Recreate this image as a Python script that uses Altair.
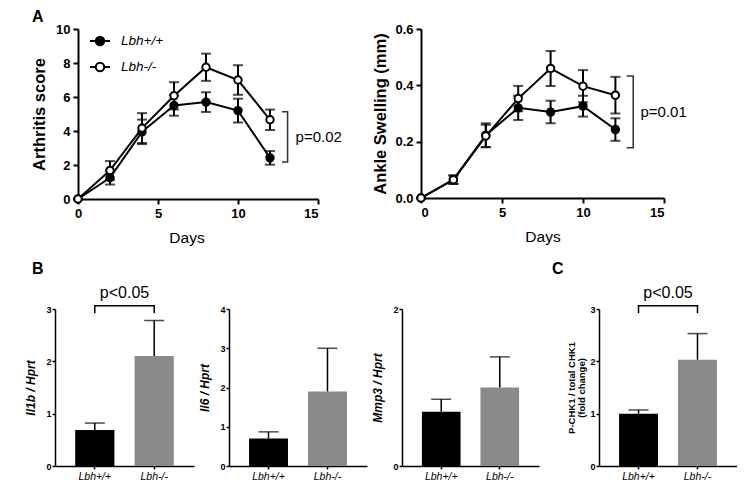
import altair as alt
import pandas as pd

FONT = "Liberation Sans"

# ---------------- data ----------------
groups = ["Lbh+/+", "Lbh-/-"]
days = [0, 2, 4, 6, 8, 10, 12]

arth_wt = [0, 1.25, 3.95, 5.5, 5.7, 5.2, 2.42]
arth_wt_sem = [0, 0.4, 0.72, 0.6, 0.58, 0.7, 0.4]
arth_ko = [0, 1.68, 4.17, 6.07, 7.75, 7.0, 4.66]
arth_ko_sem = [0, 0.55, 0.88, 0.8, 0.8, 0.87, 0.6]

ankle_wt = [0, 0.065, 0.223, 0.32, 0.305, 0.326, 0.243]
ankle_wt_sem = [0, 0.015, 0.042, 0.043, 0.04, 0.037, 0.04]
ankle_ko = [0, 0.065, 0.22, 0.353, 0.46, 0.397, 0.365]
ankle_ko_sem = [0, 0.015, 0.04, 0.045, 0.062, 0.057, 0.065]

il1b = [0.69, 2.10]
il1b_sem = [0.13, 0.68]
il6 = [0.70, 1.90]
il6_sem = [0.17, 1.10]
mmp3 = [0.69, 1.00]
mmp3_sem = [0.16, 0.39]
chk1 = [1.00, 2.03]
chk1_sem = [0.07, 0.50]

# bracket annotations (data units)
arth_bracket = dict(x=13.1, x_in=12.75, top=5.13, bot=2.17, tx=13.6, ty=3.65, label="p=0.02")
ankle_bracket = dict(x=13.1, x_in=12.7, top=0.433, bot=0.178, tx=13.55, ty=0.305, label="p=0.01")
il1b_bracket = dict(top=3.06, low=2.92, ty=3.3, label="p<0.05")
chk1_bracket = dict(top=3.06, low=2.92, ty=3.3, label="p<0.05")

# legend symbol: short line with a circle in the middle
LEG_PATH = ("M-1,0L-0.42,0M0.42,0L1,0"
            "M-0.42,0A0.42,0.42,0,1,1,0.42,0A0.42,0.42,0,1,1,-0.42,0Z")


def letter_title(text, dx, offset):
    return alt.TitleParams(text=text, anchor="start", frame="group", dx=dx,
                           offset=offset, fontSize=16, fontWeight="bold",
                           font=FONT, color="black")


def line_panel(wt, wt_sem, ko, ko_sem, ydom, yvals, yfmt, ytitle, brk,
               w, h, ytitle_pad, lead=0, title=None):
    """lead: extra pixels of plot area to the left of day 0 (axis kept at day 0)."""
    rows = []
    for g, m, s in ((groups[0], wt, wt_sem), (groups[1], ko, ko_sem)):
        for d, mm, ss in zip(days, m, s):
            rows.append(dict(group=g, day=d, mean=mm, lo=mm - ss, hi=mm + ss))
    df = pd.DataFrame(rows)

    px_per_day = w / 15.0
    xdom = [-lead / px_per_day, 15]
    xaxis_kw = dict(values=[0, 5, 10, 15], title="Days", titleFontSize=15.5,
                    titleFontWeight="normal", titlePadding=10,
                    labelFontSize=13, labelFontWeight="bold", labelPadding=3,
                    tickSize=5, tickWidth=2, domainWidth=2)
    if lead:
        xaxis_kw.update(domainDash=[w, 1000], domainDashOffset=w + 1000 - lead)
    xaxis = alt.Axis(**xaxis_kw)
    yaxis = alt.Axis(values=yvals, format=yfmt, title=ytitle, titleFontSize=16.5,
                     titleFontWeight="bold", titlePadding=ytitle_pad,
                     labelFontSize=13, labelFontWeight="bold", labelPadding=3,
                     tickSize=5, tickWidth=2, domainWidth=2, offset=-lead)
    xs = alt.Scale(domain=xdom, nice=False, zero=False)
    ys = alt.Scale(domain=ydom, nice=False)

    def X(f):
        return alt.X(f, type="quantitative", scale=xs, axis=xaxis)

    def Y(f):
        return alt.Y(f, type="quantitative", scale=ys, axis=yaxis)

    base = alt.Chart(df)
    lines = base.mark_line(color="black", strokeWidth=2).encode(
        x=X("day"), y=Y("mean"), detail="group:N")
    err = base.mark_errorbar(ticks=True, size=10, thickness=2, color="black").encode(
        x=X("day"), y=Y("lo"), y2="hi:Q")
    pts = base.mark_point(filled=True, size=55, stroke="black", strokeWidth=2,
                          opacity=1).encode(
        x=X("day"), y=Y("mean"),
        fill=alt.Fill("group:N", scale=alt.Scale(domain=groups, range=["black", "white"]),
                      legend=alt.Legend(title=None, orient="none", legendX=11 + lead,
                                        legendY=1,
                                        symbolType=LEG_PATH, symbolSize=400,
                                        symbolStrokeColor="black", symbolStrokeWidth=2,
                                        labelFont=FONT, labelFontSize=13.5,
                                        labelFontStyle="italic", labelColor="black",
                                        labelOffset=10, rowPadding=6)))

    bdf = pd.DataFrame({
        "bx": [brk["x_in"], brk["x"], brk["x"], brk["x_in"]],
        "by": [brk["top"], brk["top"], brk["bot"], brk["bot"]],
        "o": [0, 1, 2, 3]})
    bracket = alt.Chart(bdf).mark_line(color="#333333", strokeWidth=1.5).encode(
        x=X("bx"), y=Y("by"), order="o:Q")
    tdf = pd.DataFrame({"tx": [brk["tx"]], "ty": [brk["ty"]], "label": [brk["label"]]})
    ptext = alt.Chart(tdf).mark_text(align="left", baseline="middle", fontSize=15,
                                      font=FONT, color="black").encode(
        x=X("tx"), y=Y("ty"), text="label:N")

    props = dict(width=w + lead, height=h)
    if title is not None:
        props["title"] = title
    return alt.layer(lines, err, bracket, ptext, pts).properties(**props)


def bar_panel(vals, sems, ydom, yvals, ytitle, italic, w, h, ytitle_pad,
              brk=None, title=None):
    df = pd.DataFrame({"group": groups, "mean": vals,
                       "hi": [v + s for v, s in zip(vals, sems)]})
    xscale = alt.Scale(domain=groups, paddingInner=0.34, paddingOuter=0.34)
    xaxis = alt.Axis(title=None, labelAngle=0, labelFontStyle="italic",
                     labelFontSize=10.5, labelPadding=2, tickSize=3, tickWidth=1.5,
                     domainWidth=1.5)
    yaxis = alt.Axis(values=yvals, format="d", title=ytitle,
                     titleFontSize=12 if italic else 9.5,
                     titleFontWeight="bold",
                     titleFontStyle="italic" if italic else "normal",
                     titlePadding=ytitle_pad, titleLineHeight=10,
                     labelFontSize=9, labelFontWeight="bold", labelPadding=1,
                     tickSize=3, tickWidth=1.5, domainWidth=1.5)
    ys = alt.Scale(domain=ydom, nice=False)

    def X(f):
        return alt.X(f, type="nominal", sort=groups, scale=xscale, axis=xaxis)

    def Y(f):
        return alt.Y(f, type="quantitative", scale=ys, axis=yaxis)

    base = alt.Chart(df)
    bars = base.mark_bar().encode(
        x=X("group"), y=Y("mean"),
        color=alt.Color("group:N", scale=alt.Scale(domain=groups, range=["black", "#8a8a8a"]),
                        legend=None))
    rule = base.mark_rule(color="black", strokeWidth=1.5).encode(
        x=X("group"), y=Y("mean"), y2="hi:Q")
    cap = base.mark_tick(color="black", thickness=1.5, size=20).encode(
        x=X("group"), y=Y("hi"))
    layers = [bars, rule, cap]
    if brk is not None:
        bdf = pd.DataFrame({"g": [groups[0], groups[0], groups[1], groups[1]],
                            "by": [brk["low"], brk["top"], brk["top"], brk["low"]],
                            "o": [0, 1, 2, 3]})
        layers.append(alt.Chart(bdf).mark_line(color="black", strokeWidth=1.5).encode(
            x=X("g"), y=Y("by"), order="o:Q"))
        tdf = pd.DataFrame({"g": [groups[0]], "ty": [brk["ty"]], "label": [brk["label"]]})
        layers.append(alt.Chart(tdf).mark_text(align="center", baseline="middle",
                                               fontSize=16, font=FONT, color="black",
                                               dx=w * 0.5 / 2.34).encode(
            x=X("g"), y=Y("ty"), text="label:N"))
    props = dict(width=w, height=h)
    if title is not None:
        props["title"] = title
    return alt.layer(*layers).properties(**props)


A1 = line_panel(arth_wt, arth_wt_sem, arth_ko, arth_ko_sem, [0, 10], [0, 2, 4, 6, 8, 10],
                "d", "Arthritis score", arth_bracket, 240, 170, 8, lead=23,
                title=letter_title("A", -23, -1.5))
A2 = line_panel(ankle_wt, ankle_wt_sem, ankle_ko, ankle_ko_sem, [0, 0.6], [0, 0.2, 0.4, 0.6],
                ".1f", "Ankle Swelling (mm)", ankle_bracket, 243, 169, 6)

B1 = bar_panel(il1b, il1b_sem, [0, 3], [0, 1, 2, 3], "Il1b / Hprt", True, 139, 157, 8,
               il1b_bracket, title=letter_title("B", -23, 8.5))
B2 = bar_panel(il6, il6_sem, [0, 4], [0, 1, 2, 3, 4], "Il6 / Hprt", True, 138, 157, 8)
B3 = bar_panel(mmp3, mmp3_sem, [0, 2], [0, 1, 2], "Mmp3 / Hprt", True, 137, 157, 8)
C = bar_panel(chk1, chk1_sem, [0, 3], [0, 1, 2, 3], ["P-CHK1 / total CHK1", "(fold change)"],
              False, 138, 157, 3, chk1_bracket, title=letter_title("C", -47, 8.5))

top = alt.hconcat(A1, A2, spacing=103, bounds="flush")
bottom = alt.hconcat(alt.hconcat(B1, B2, B3, spacing=35, bounds="flush"), C, spacing=13)

chart = alt.vconcat(top, bottom, spacing=14).properties(
    padding={"left": 16, "top": 0, "right": 0, "bottom": 0}
).configure_view(stroke=None).configure_axis(
    grid=False, labelFont=FONT, titleFont=FONT, labelColor="black", titleColor="black",
    domainColor="black", tickColor="black"
).configure_title(font=FONT)

chart.save("out.html", embed_options={"renderer": "svg", "actions": False})
